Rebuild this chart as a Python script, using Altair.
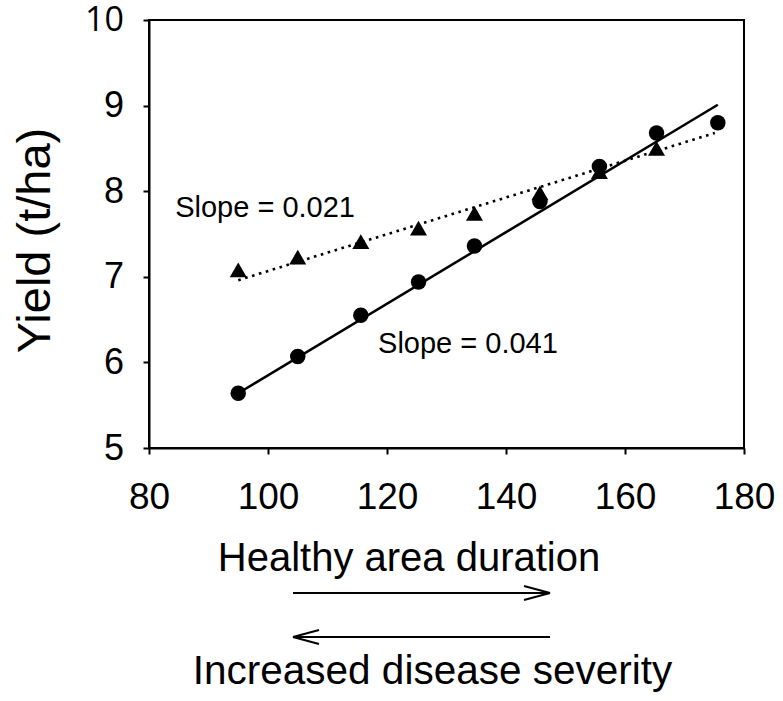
import altair as alt
import pandas as pd

# ---- data ----
x_circle = [95, 105, 115.6, 125.3, 134.7, 145.7, 155.7, 165.3, 175.6]
yield_circle = [5.64, 6.07, 6.55, 6.94, 7.36, 7.88, 8.29, 8.68, 8.80]
x_tri = [95, 105, 115.6, 125.3, 134.7, 145.7, 155.7, 165.3]
yield_tri = [7.08, 7.23, 7.41, 7.57, 7.74, 7.98, 8.23, 8.50]

fit_solid_x = [95, 175.6]
fit_solid_y = [5.64, 9.01]
fit_dotted_x = [95, 175.1]
fit_dotted_y = [6.96, 8.68]

ann_text = ["Slope = 0.021", "Slope = 0.041"]
ann_x = [84.4, 118.5]
ann_y = [7.80, 6.21]

x_ticks = [80, 100, 120, 140, 160, 180]
y_ticks = [5, 6, 7, 8, 9, 10]
x_title = "Healthy area duration"
y_title = "Yield (t/ha)"
bottom_text = "Increased disease severity"

FONT = "Liberation Sans"

circles = pd.DataFrame({"x": x_circle, "y": yield_circle})
tris = pd.DataFrame({"x": x_tri, "y": yield_tri})
solid = pd.DataFrame({"x": fit_solid_x, "y": fit_solid_y})
dotted = pd.DataFrame({"x": fit_dotted_x, "y": fit_dotted_y})
ann = pd.DataFrame({"x": ann_x, "y": ann_y, "t": ann_text})
one = pd.DataFrame({"a": [0]})

x_enc = alt.X(
    "x:Q",
    scale=alt.Scale(domain=[80, 180], nice=False, zero=False),
    axis=alt.Axis(
        values=x_ticks,
        title=x_title,
        labelFontSize=37,
        labelPadding=25,
        labelFlush=False,
        labelOverlap=False,
        titleFontSize=40,
        titleX=259.5,
        titleY=110,
        titleAlign="center",
        titleBaseline="middle",
    ),
)
y_enc = alt.Y(
    "y:Q",
    scale=alt.Scale(domain=[5, 10], nice=False, zero=False),
    axis=alt.Axis(
        values=y_ticks,
        title=y_title,
        labelFontSize={"expr": "datum.value == 10 ? 34 : 36"},
        labelFont={"expr": "datum.value == 10 ? 'Open Sans' : 'Liberation Sans'"},
        labelExpr="datum.value == 10 ? '10\u2009\u2009' : datum.label",
        labelPadding=19.5,
        labelFlush=False,
        labelOverlap=False,
        titleFontSize=47,
        titleX=-114,
        titleY=220,
        titleAngle=270,
        titleAlign="center",
        titleBaseline="middle",
    ),
)

line_solid = alt.Chart(solid).mark_line(color="black", strokeWidth=2.5).encode(x=x_enc, y=y_enc)
line_dot = alt.Chart(dotted).mark_line(color="black", strokeWidth=2.6, strokeDash=[2.6, 4.6]).encode(x=x_enc, y=y_enc)
pts_c = alt.Chart(circles).mark_point(shape="circle", filled=True, color="black", size=240, opacity=1).encode(x=x_enc, y=y_enc)
pts_t = alt.Chart(tris).mark_point(shape="triangle-up", filled=True, color="black", size=290, opacity=1).encode(x=x_enc, y=y_enc)
labels = alt.Chart(ann).mark_text(align="left", baseline="middle", font=FONT, fontSize=29, color="black").encode(
    x=x_enc, y=y_enc, text="t:N"
)


def seg(x1, y1, x2, y2):
    return alt.Chart(one).mark_rule(color="black", strokeWidth=2).encode(
        x=alt.value(x1), x2=alt.value(x2), y=alt.value(y1), y2=alt.value(y2)
    )


arrows = [
    seg(144, 573, 401, 573),
    seg(401, 573, 375, 566),
    seg(401, 573, 375, 580),
    seg(144, 617, 401, 617),
    seg(144, 617, 170, 610),
    seg(144, 617, 170, 624),
]

bottom = alt.Chart(one).mark_text(align="center", baseline="middle", font=FONT, fontSize=40.5, color="black").encode(
    x=alt.value(283.5), y=alt.value(652), text=alt.value(bottom_text)
)

chart = alt.layer(line_solid, line_dot, pts_c, pts_t, labels, *arrows, bottom).properties(
    width=595,
    height=428,
    autosize=alt.AutoSizeParams(type="none"),
    padding={"left": 149, "top": 20, "right": 39, "bottom": 253},
    background="white",
).configure_view(stroke="black", strokeWidth=2).configure_axis(
    domainColor="black",
    domainWidth=2,
    tickColor="black",
    tickWidth=2,
    tickSize=6,
    labelColor="black",
    labelFont=FONT,
    titleFont=FONT,
    titleColor="black",
    titleFontWeight="normal",
    grid=False,
)

chart.save("out.html", embed_options={"renderer": "svg", "actions": False})
